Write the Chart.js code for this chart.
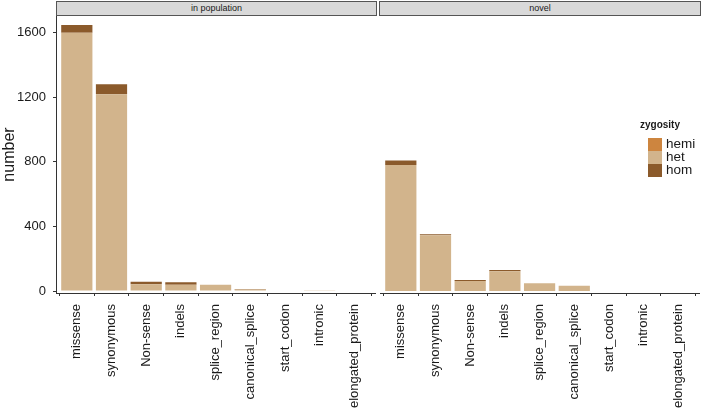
<!DOCTYPE html>
<html>
<head>
<meta charset="utf-8">
<script src="https://cdn.jsdelivr.net/npm/chart.js@4.4.1/dist/chart.umd.min.js"></script>
<style>
  body { margin: 0; background: #fff; font-family: "Liberation Sans", Arial, sans-serif; }
  #wrap { position: relative; width: 702px; height: 411px; overflow: hidden; }
  #wrap canvas { position: absolute; top: 0; }
  .strip { position: absolute; top: 1px; height: 13px; background: #d9d9d9; border: 1px solid #555;
           font-size: 9px; line-height: 13px; text-align: center; color: #1a1a1a; }
  #legend { position: absolute; left: 640px; top: 119px; color: #1a1a1a; }
  #legend .title { font-size: 10px; font-weight: bold; margin-bottom: 8px; }
  #legend .row { position: relative; height: 13px; }
  #legend .key { position: absolute; left: 8px; top: 0; width: 14px; height: 13px; }
  #legend .lab { position: absolute; left: 26px; top: -2px; font-size: 13.5px; line-height: 15px; }
</style>
</head>
<body>
<div id="wrap">
  <canvas id="popChart" width="378" height="411" style="left:0"></canvas>
  <canvas id="novelChart" width="324" height="411" style="left:378px"></canvas>
  <div class="strip" style="left:56px; width:319px;">in population</div>
  <div class="strip" style="left:379px; width:320px;">novel</div>
  <div id="legend"></div>
</div>
<script>
const categories = ['missense', 'synonymous', 'Non-sense', 'indels', 'splice_region',
                    'canonical_splice', 'start_codon', 'intronic', 'elongated_protein'];
const zygosity = ['hemi', 'het', 'hom'];
const zygColors = { hemi: '#CD853F', het: '#D2B48C', hom: '#8B5A2B' };

// in population
const popHet  = [1600, 1218, 42, 39, 39, 10, 0, 5, 0];
const popHom  = [47, 62, 16, 15, 0, 2, 0, 0, 0];
const popHemi = [0, 0, 0, 0, 0, 0, 0, 0, 0];

// novel
const novelHet  = [780, 345, 62, 122, 48, 33, 0, 0, 0];
const novelHom  = [29, 6, 6, 8, 0, 0, 0, 0, 0];
const novelHemi = [0, 0, 0, 0, 0, 0, 0, 0, 0];

const yTicks = [0, 400, 800, 1200, 1600];
const yMin = -12, yMax = 1703;

const textColor = '#1a1a1a';
const axisColor = '#333';

function makeChart(id, het, hom, hemi, showY) {
    const ctx = document.getElementById(id).getContext('2d');
    return new Chart(ctx, {
        type: 'bar',
        data: {
            labels: categories.map((c, i) => i),
            datasets: [
                { label: 'het', data: het, backgroundColor: zygColors.het },
                { label: 'hom', data: hom, backgroundColor: zygColors.hom },
                { label: 'hemi', data: hemi, backgroundColor: zygColors.hemi }
            ]
        },
        options: {
            responsive: false,
            animation: false,
            datasets: { bar: { barPercentage: 0.9, categoryPercentage: 1.0, borderWidth: 0 } },
            layout: { padding: { top: 16, right: 1, left: showY ? 0 : 2, bottom: 0 } },
            plugins: { legend: { display: false }, tooltip: { enabled: false } },
            scales: {
                x: {
                    type: 'linear',
                    stacked: true,
                    offset: false,
                    min: -0.6,
                    max: categories.length - 0.4,
                    afterBuildTicks: s => { s.ticks = categories.map((c, i) => ({ value: i })); },
                    afterFit: s => { s.height = 118; },
                    ticks: {
                        autoSkip: false,
                        minRotation: 90,
                        maxRotation: 90,
                        padding: 8,
                        color: textColor,
                        font: { family: '"Liberation Sans", Arial, sans-serif', size: 13 },
                        callback: v => categories[v]
                    },
                    grid: { display: true, drawOnChartArea: false, drawTicks: true, tickLength: 3, color: axisColor },
                    border: { display: true, color: axisColor, width: 1 }
                },
                y: {
                    display: showY,
                    stacked: true,
                    min: yMin,
                    max: yMax,
                    afterBuildTicks: s => { s.ticks = yTicks.map(v => ({ value: v })); },
                    afterFit: s => { s.width = showY ? 56 : 0; },
                    ticks: {
                        padding: 7,
                        color: textColor,
                        font: { family: '"Liberation Sans", Arial, sans-serif', size: 13 },
                        callback: v => String(v)
                    },
                    title: {
                        display: true,
                        text: 'number',
                        color: textColor,
                        padding: { top: 0, bottom: 0 },
                        font: { family: '"Liberation Sans", Arial, sans-serif', size: 16 }
                    },
                    grid: { display: true, drawOnChartArea: false, drawTicks: true, tickLength: 3, color: axisColor },
                    border: { display: true, color: axisColor, width: 1 }
                }
            }
        }
    });
}

makeChart('popChart', popHet, popHom, popHemi, true);
makeChart('novelChart', novelHet, novelHom, novelHemi, false);

// legend
const legend = document.getElementById('legend');
let html = '<div class="title">zygosity</div>';
zygosity.forEach(z => {
    html += '<div class="row"><div class="key" style="background:' + zygColors[z] + '"></div>' +
            '<div class="lab">' + z + '</div></div>';
});
legend.innerHTML = html;
</script>
</body>
</html>
